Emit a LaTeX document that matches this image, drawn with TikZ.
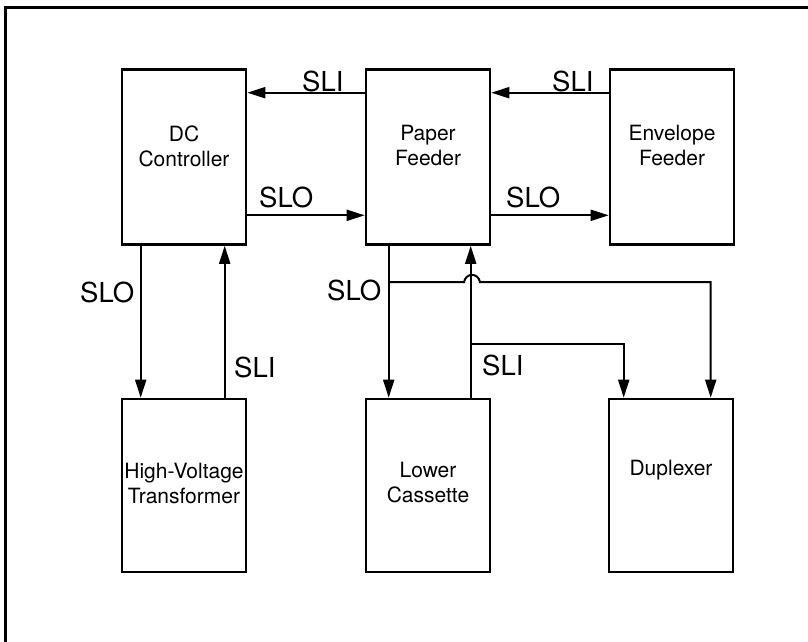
\documentclass[tikz,border=0pt]{standalone}
\usepackage{fontspec}
\setmainfont{TeX Gyre Heros}
\usetikzlibrary{arrows.meta}
\begin{document}
\begin{tikzpicture}[x=1pt,y=-1pt,
  box/.style={draw,line width=2.6pt,minimum width=124pt,minimum height=175pt,inner sep=0pt},
  btext/.style={align=center,font=\fontsize{21}{25}\selectfont,inner sep=0pt},
  lbl/.style={anchor=base west,font=\fontsize{27.5}{30}\selectfont,inner sep=0pt},
  arr/.style={line width=2pt,-{Triangle[length=18pt,width=11pt]}},
  ln/.style={line width=2pt}]
\useasboundingbox (0,0) rectangle (808,642);
\draw[line width=3pt] (5.5,642) -- (5.5,7.5) -- (808,7.5);
% boxes
\node[box] (dc) at (184,157) {};
\node[box] (pf) at (428,157) {};
\node[box] (ef) at (672,157) {};
\node[box,minimum height=173pt] (hvt) at (184,485.5) {};
\node[box,minimum height=173pt] (lc) at (428,485.5) {};
\node[box,minimum height=173pt] (dup) at (671,485.5) {};
% box texts
\node[btext] (tdc) at (184,146) {DC\\Controller};
\node[btext] (tpf) at (428,146) {Paper\\Feeder};
\node[btext] (tef) at (672,146) {Envelope\\Feeder};
\node[btext] (thvt) at (184,483) {High-Voltage\\Transformer};
\node[btext] (tlc) at (428,483) {Lower\\Cassette};
\node[btext] (tdup) at (671,470) {Duplexer};
% horizontal connectors
\draw[arr] ([yshift=-24.5pt]pf.north west) -- ([yshift=-24.5pt]dc.north east);
\draw[arr] ([yshift=30.5pt]dc.south east) -- ([yshift=30.5pt]pf.south west);
\draw[arr] ([yshift=-24.5pt]ef.north west) -- ([yshift=-24.5pt]pf.north east);
\draw[arr] ([yshift=30.5pt]pf.south east) -- ([yshift=30.5pt]ef.south west);
% DC <-> HVT
\draw[arr] ([xshift=20pt]dc.south west) -- ([xshift=20pt]hvt.north west);
\draw[arr] ([xshift=104pt]hvt.north west) -- ([xshift=104pt]dc.south west);
% Paper feeder <-> lower cassette
\coordinate (pfo) at ([xshift=24pt]pf.south west);
\coordinate (lco) at ([xshift=106pt]lc.north west);
\coordinate (d1) at ([xshift=103pt]dup.north west);
\coordinate (d2) at ([xshift=16pt]dup.north west);
\coordinate (ya) at (0,282);
\coordinate (yb) at (0,344);
\draw[arr] (pfo) -- (pfo |- lc.north);
\draw[arr] (lco) -- (lco |- pf.south);
\draw[arr] (pfo |- ya) -- (464,282) .. controls (466,272.5) and (478,272.5) .. (480,282) -- (d1 |- ya) -- (d1);
\draw[arr] (lco |- yb) -- (d2 |- yb) -- (d2);
% labels
\node[lbl] (l1) at (302,91) {SLI};
\node[lbl] (l2) at (259,207) {SLO};
\node[lbl] (l3) at (552,91) {SLI};
\node[lbl] (l4) at (506,207) {SLO};
\node[lbl] (l5) at (80,302) {SLO};
\node[lbl] (l6) at (234,377) {SLI};
\node[lbl] (l7) at (327,300) {SLO};
\node[lbl] (l8) at (482,375) {SLI};
\end{tikzpicture}
\end{document}
